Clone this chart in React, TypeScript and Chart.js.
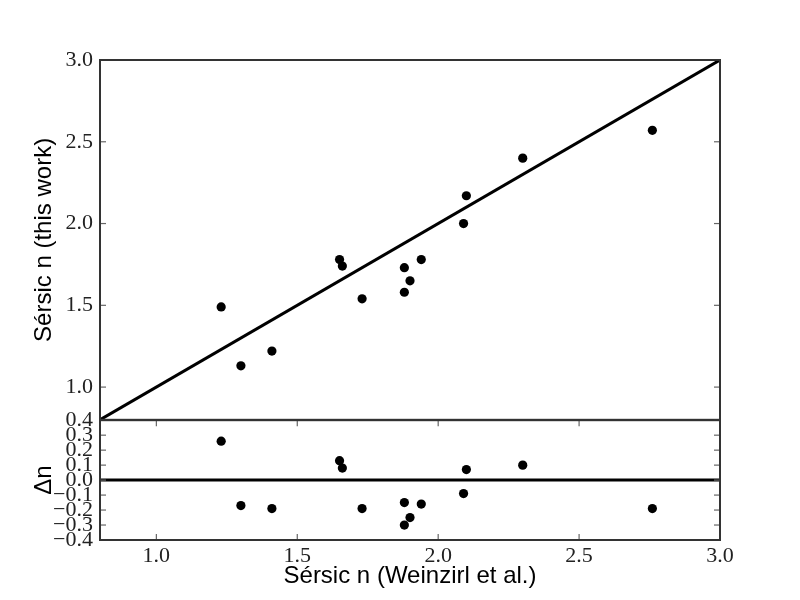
import React, { useEffect, useRef } from "react";
import { Chart, registerables } from "chart.js";

Chart.register(...registerables);

// Data
const WEINZIRL_N = [1.23, 1.30, 1.41, 1.65, 1.66, 1.73, 1.88, 1.90, 1.88, 1.94, 2.09, 2.10, 2.30, 2.76];
const THIS_WORK_N = [1.49, 1.13, 1.22, 1.78, 1.74, 1.54, 1.73, 1.65, 1.58, 1.78, 2.00, 2.17, 2.40, 2.57];
const DELTA_N = [0.26, -0.17, -0.19, 0.13, 0.08, -0.19, -0.15, -0.25, -0.30, -0.16, -0.09, 0.07, 0.10, -0.19];

const ONE_TO_ONE_X = [0.8, 3.0];
const ONE_TO_ONE_Y = [0.8, 3.0];
const ZERO_LINE_X = [0.8, 3.0];
const ZERO_LINE_Y = [0.0, 0.0];

const X_TICKS = [1.0, 1.5, 2.0, 2.5, 3.0];
const Y_TOP_TICKS = [1.0, 1.5, 2.0, 2.5, 3.0];
const Y_BOTTOM_TICKS = [-0.4, -0.3, -0.2, -0.1, 0.0, 0.1, 0.2, 0.3, 0.4];

const X_RANGE = [0.8, 3.0];
const Y_TOP_RANGE = [0.8, 3.0];
const Y_BOTTOM_RANGE = [-0.4, 0.4];

const TICK_FONT = { family: "'Liberation Serif', 'DejaVu Serif', serif", size: 22 };
const TITLE_FONT = { family: "'Liberation Sans', Arial, sans-serif", size: 24 };

const fmt = (v: number) => {
  const s = Math.abs(v).toFixed(1);
  return v < -1e-9 ? "\u2212" + s : s;
};

const panelDecor = {
  id: "panelDecor",
  afterDraw(chart: any, _args: any, opts: any) {
    const { ctx, chartArea: a } = chart;
    ctx.save();
    const L = 6;
    const seg = (x1: number, y1: number, x2: number, y2: number) => {
      ctx.beginPath();
      ctx.moveTo(x1, y1);
      ctx.lineTo(x2, y2);
      ctx.stroke();
    };
    ctx.strokeStyle = "#666";
    ctx.lineWidth = 1.2;
    if (opts && opts.yTicks) {
      const ys = chart.scales.y;
      for (const v of opts.yTicks) {
        const p = ys.getPixelForValue(v);
        seg(a.left, p, a.left + L, p);
        seg(a.right - L, p, a.right, p);
      }
    }
    if (opts && opts.xTicks) {
      const xs = chart.scales.x;
      for (const v of opts.xTicks) {
        const p = xs.getPixelForValue(v);
        seg(p, a.top, p, a.top + L);
        seg(p, a.bottom - L, p, a.bottom);
      }
    }
    ctx.strokeStyle = "#333";
    ctx.lineWidth = 2;
    ctx.strokeRect(a.left, a.top, a.right - a.left, a.bottom - a.top);
    ctx.restore();
  },
};

const setTicks = (vals: number[]) => (s: any) => {
  s.ticks = vals.map((v) => ({ value: v }));
};

export default function App() {
  const topRef = useRef<HTMLCanvasElement>(null);
  const botRef = useRef<HTMLCanvasElement>(null);

  useEffect(() => {
    const pts = WEINZIRL_N.map((x, i) => ({ x, y: THIS_WORK_N[i] }));
    const oneToOne = ONE_TO_ONE_X.map((x, i) => ({ x, y: ONE_TO_ONE_Y[i] }));
    const top = new Chart(topRef.current!, {
      type: "scatter",
      data: {
        datasets: [
          { data: pts, backgroundColor: "#000", borderWidth: 0, pointRadius: 4.6, pointHoverRadius: 4.6 },
          { data: oneToOne, showLine: true, borderColor: "#000", borderWidth: 3, pointRadius: 0, pointHoverRadius: 0 } as any,
        ],
      },
      options: {
        animation: false,
        responsive: false,
        devicePixelRatio: 1,
        events: [],
        layout: { padding: { left: 0, top: 60, right: 80, bottom: 20 } },
        plugins: {
          legend: { display: false },
          tooltip: { enabled: false },
          panelDecor: { yTicks: Y_TOP_TICKS },
        } as any,
        scales: {
          x: { type: "linear", min: X_RANGE[0], max: X_RANGE[1], display: false },
          y: {
            type: "linear",
            min: Y_TOP_RANGE[0],
            max: Y_TOP_RANGE[1],
            afterBuildTicks: setTicks(Y_TOP_TICKS),
            afterFit: (s: any) => { s.width = 100; },
            grid: { display: false, drawTicks: false },
            border: { display: false },
            ticks: { padding: 7, font: TICK_FONT, color: "#222", autoSkip: false, callback: (v: any) => fmt(Number(v)) },
            title: { display: true, text: "Sérsic n (this work)", font: TITLE_FONT, color: "#000", padding: { top: 30, bottom: 0 } },
          },
        },
      },
      plugins: [panelDecor],
    });

    const res = WEINZIRL_N.map((x, i) => ({ x, y: DELTA_N[i] }));
    const zero = ZERO_LINE_X.map((x, i) => ({ x, y: ZERO_LINE_Y[i] }));
    const bot = new Chart(botRef.current!, {
      type: "scatter",
      data: {
        datasets: [
          { data: res, backgroundColor: "#000", borderWidth: 0, pointRadius: 4.6, pointHoverRadius: 4.6 },
          { data: zero, showLine: true, borderColor: "#000", borderWidth: 3, pointRadius: 0, pointHoverRadius: 0 } as any,
        ],
      },
      options: {
        animation: false,
        responsive: false,
        devicePixelRatio: 1,
        events: [],
        layout: { padding: { left: 0, top: 20, right: 80, bottom: 0 } },
        plugins: {
          legend: { display: false },
          tooltip: { enabled: false },
          panelDecor: { yTicks: Y_BOTTOM_TICKS, xTicks: X_TICKS },
        } as any,
        scales: {
          x: {
            type: "linear",
            min: X_RANGE[0],
            max: X_RANGE[1],
            afterBuildTicks: setTicks(X_TICKS),
            afterFit: (s: any) => { s.height = 60; },
            grid: { display: false, drawTicks: false },
            border: { display: false },
            ticks: { padding: 3, font: TICK_FONT, color: "#222", autoSkip: false, maxRotation: 0, callback: (v: any) => fmt(Number(v)) },
            title: { display: true, text: "Sérsic n (Weinzirl et al.)", font: TITLE_FONT, color: "#000", padding: { top: 0, bottom: 9 } },
          },
          y: {
            type: "linear",
            min: Y_BOTTOM_RANGE[0],
            max: Y_BOTTOM_RANGE[1],
            afterBuildTicks: setTicks(Y_BOTTOM_TICKS),
            afterFit: (s: any) => { s.width = 100; },
            grid: { display: false, drawTicks: false },
            border: { display: false },
            ticks: { padding: 7, font: TICK_FONT, color: "#222", autoSkip: false, callback: (v: any) => fmt(Number(v)) },
            title: { display: true, text: "Δn", font: TITLE_FONT, color: "#000", padding: { top: 30, bottom: 0 } },
          },
        },
      },
      plugins: [panelDecor],
    });

    return () => {
      top.destroy();
      bot.destroy();
    };
  }, []);

  return (
    <div style={{ position: "absolute", left: 0, top: 0, width: 800, height: 600, background: "#fff" }}>
      <canvas ref={topRef} width={800} height={440} style={{ position: "absolute", left: 0, top: 0, width: 800, height: 440 }} />
      <canvas ref={botRef} width={800} height={200} style={{ position: "absolute", left: 0, top: 400, width: 800, height: 200 }} />
    </div>
  );
}
